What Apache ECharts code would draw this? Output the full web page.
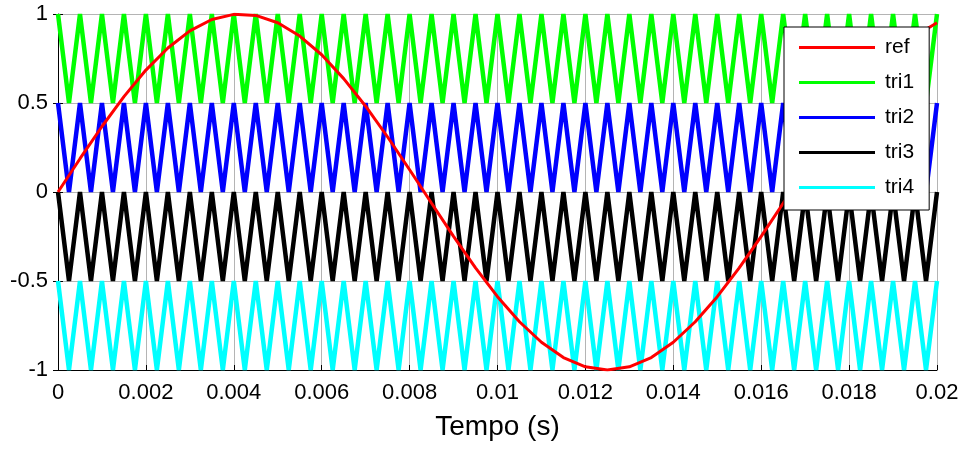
<!DOCTYPE html>
<html>
<head>
<meta charset="utf-8">
<title>Portadoras e referência</title>
<script src="https://cdn.jsdelivr.net/npm/echarts@6.0.0/dist/echarts.min.js"></script>
<style>
  html, body { margin: 0; padding: 0; background: #fff; }
  #chart { width: 965px; height: 450px; }
</style>
</head>
<body>
<div id="chart"></div>
<script>
  // eixo x (s) e rótulos
  var xTickLabels = ['0', '0.002', '0.004', '0.006', '0.008', '0.01', '0.012', '0.014', '0.016', '0.018', '0.02'];
  var yTickLabels = ['-1', '-0.5', '0', '0.5', '1'];

  // vértices das portadoras triangulares
  var triTime = [
    0, 0.00025, 0.0005, 0.00075, 0.001, 0.00125, 0.0015, 0.00175, 0.002, 0.00225,
    0.0025, 0.00275, 0.003, 0.00325, 0.0035, 0.00375, 0.004, 0.00425, 0.0045, 0.00475,
    0.005, 0.00525, 0.0055, 0.00575, 0.006, 0.00625, 0.0065, 0.00675, 0.007, 0.00725,
    0.0075, 0.00775, 0.008, 0.00825, 0.0085, 0.00875, 0.009, 0.00925, 0.0095, 0.00975,
    0.01, 0.01025, 0.0105, 0.01075, 0.011, 0.01125, 0.0115, 0.01175, 0.012, 0.01225,
    0.0125, 0.01275, 0.013, 0.01325, 0.0135, 0.01375, 0.014, 0.01425, 0.0145, 0.01475,
    0.015, 0.01525, 0.0155, 0.01575, 0.016, 0.01625, 0.0165, 0.01675, 0.017, 0.01725,
    0.0175, 0.01775, 0.018, 0.01825, 0.0185, 0.01875, 0.019, 0.01925, 0.0195, 0.01975,
    0.02
  ];
  var tri1 = [
    1, 0.5, 1, 0.5, 1, 0.5, 1, 0.5, 1, 0.5,
    1, 0.5, 1, 0.5, 1, 0.5, 1, 0.5, 1, 0.5,
    1, 0.5, 1, 0.5, 1, 0.5, 1, 0.5, 1, 0.5,
    1, 0.5, 1, 0.5, 1, 0.5, 1, 0.5, 1, 0.5,
    1, 0.5, 1, 0.5, 1, 0.5, 1, 0.5, 1, 0.5,
    1, 0.5, 1, 0.5, 1, 0.5, 1, 0.5, 1, 0.5,
    1, 0.5, 1, 0.5, 1, 0.5, 1, 0.5, 1, 0.5,
    1, 0.5, 1, 0.5, 1, 0.5, 1, 0.5, 1, 0.5,
    1
  ];
  var tri2 = [
    0.5, 0, 0.5, 0, 0.5, 0, 0.5, 0, 0.5, 0,
    0.5, 0, 0.5, 0, 0.5, 0, 0.5, 0, 0.5, 0,
    0.5, 0, 0.5, 0, 0.5, 0, 0.5, 0, 0.5, 0,
    0.5, 0, 0.5, 0, 0.5, 0, 0.5, 0, 0.5, 0,
    0.5, 0, 0.5, 0, 0.5, 0, 0.5, 0, 0.5, 0,
    0.5, 0, 0.5, 0, 0.5, 0, 0.5, 0, 0.5, 0,
    0.5, 0, 0.5, 0, 0.5, 0, 0.5, 0, 0.5, 0,
    0.5, 0, 0.5, 0, 0.5, 0, 0.5, 0, 0.5, 0,
    0.5
  ];
  var tri3 = [
    0, -0.5, 0, -0.5, 0, -0.5, 0, -0.5, 0, -0.5,
    0, -0.5, 0, -0.5, 0, -0.5, 0, -0.5, 0, -0.5,
    0, -0.5, 0, -0.5, 0, -0.5, 0, -0.5, 0, -0.5,
    0, -0.5, 0, -0.5, 0, -0.5, 0, -0.5, 0, -0.5,
    0, -0.5, 0, -0.5, 0, -0.5, 0, -0.5, 0, -0.5,
    0, -0.5, 0, -0.5, 0, -0.5, 0, -0.5, 0, -0.5,
    0, -0.5, 0, -0.5, 0, -0.5, 0, -0.5, 0, -0.5,
    0, -0.5, 0, -0.5, 0, -0.5, 0, -0.5, 0, -0.5,
    0
  ];
  var tri4 = [
    -0.5, -1, -0.5, -1, -0.5, -1, -0.5, -1, -0.5, -1,
    -0.5, -1, -0.5, -1, -0.5, -1, -0.5, -1, -0.5, -1,
    -0.5, -1, -0.5, -1, -0.5, -1, -0.5, -1, -0.5, -1,
    -0.5, -1, -0.5, -1, -0.5, -1, -0.5, -1, -0.5, -1,
    -0.5, -1, -0.5, -1, -0.5, -1, -0.5, -1, -0.5, -1,
    -0.5, -1, -0.5, -1, -0.5, -1, -0.5, -1, -0.5, -1,
    -0.5, -1, -0.5, -1, -0.5, -1, -0.5, -1, -0.5, -1,
    -0.5, -1, -0.5, -1, -0.5, -1, -0.5, -1, -0.5, -1,
    -0.5
  ];

  var refTime = [
    0, 0.0005, 0.001, 0.0015, 0.002, 0.0025, 0.003, 0.0035, 0.004, 0.0045,
    0.005, 0.0055, 0.006, 0.0065, 0.007, 0.0075, 0.008, 0.0085, 0.009, 0.0095,
    0.01, 0.0105, 0.011, 0.0115, 0.012, 0.0125, 0.013, 0.0135, 0.014, 0.0145,
    0.015, 0.0155, 0.016, 0.0165, 0.017, 0.0175, 0.018, 0.0185, 0.019, 0.0195,
    0.02
  ];
  var refValues = [
    0, 0.187, 0.368, 0.536, 0.685, 0.809, 0.905, 0.969, 0.998, 0.992,
    0.951, 0.876, 0.771, 0.637, 0.482, 0.309, 0.125, -0.063, -0.249, -0.426,
    -0.588, -0.729, -0.844, -0.930, -0.982, -1.000, -0.982, -0.930, -0.844, -0.729,
    -0.588, -0.426, -0.249, -0.063, 0.125, 0.309, 0.482, 0.637, 0.771, 0.876,
    0.951
  ];

  function pairs (xs, ys) {
    var out = [];
    for (var i = 0; i < xs.length; i++) {
      out.push([xs[i], ys[i]]);
    }
    return out;
  }

  var font = '"Liberation Sans", Arial, sans-serif';
  var gridColor = '#b4b4b4';

  var myChart = echarts.init(document.getElementById('chart'));
  var tickStyle = { inside: true, length: 5, lineStyle: { color: '#000', width: 1 } };

  function triSeries (name, data, color) {
    return {
      name: name,
      type: 'line',
      data: pairs(triTime, data),
      symbol: 'none',
      showSymbol: false,
      z: 2,
      lineStyle: { color: color, width: 4.5 },
      itemStyle: { color: color }
    };
  }

  myChart.setOption({
    animation: false,
    backgroundColor: '#fff',
    grid: {
      left: 58,
      right: 28,
      top: 14,
      bottom: 80,
      containLabel: false
    },
    legend: {
      orient: 'vertical',
      left: 784,
      top: 27,
      z: 10,
      icon: 'rect',
      itemWidth: 76,
      itemHeight: 3,
      itemGap: 14,
      padding: [10, 15, 12, 15],
      backgroundColor: '#fff',
      borderColor: '#000',
      borderWidth: 1,
      borderRadius: 0,
      selectedMode: false,
      textStyle: { fontFamily: font, fontSize: 21, color: '#000', padding: [0, 0, 0, 5] },
      data: ['ref', 'tri1', 'tri2', 'tri3', 'tri4']
    },
    xAxis: [{
      type: 'value',
      min: 0,
      max: 0.02,
      interval: 0.002,
      name: 'Tempo (s)',
      nameLocation: 'middle',
      nameGap: 43,
      nameTextStyle: { fontFamily: font, fontSize: 28, color: '#000' },
      axisLine: { show: true, onZero: false, lineStyle: { color: '#000', width: 1 } },
      axisTick: tickStyle,
      axisLabel: {
        fontFamily: font,
        fontSize: 22,
        color: '#000',
        margin: 12,
        formatter: function (v) {
          return xTickLabels[Math.round(v / 0.002)];
        }
      },
      splitLine: { show: true, lineStyle: { color: gridColor, width: 1 } }
    }, {
      type: 'value',
      position: 'top',
      min: 0,
      max: 0.02,
      interval: 0.002,
      axisLine: { show: false },
      axisTick: tickStyle,
      axisLabel: { show: false },
      splitLine: { show: false }
    }],
    yAxis: [{
      type: 'value',
      min: -1,
      max: 1,
      interval: 0.5,
      axisLine: { show: true, onZero: false, lineStyle: { color: '#000', width: 1 } },
      axisTick: tickStyle,
      axisLabel: {
        fontFamily: font,
        fontSize: 22,
        color: '#000',
        margin: 10,
        formatter: function (v) {
          return yTickLabels[Math.round((v + 1) / 0.5)];
        }
      },
      splitLine: { show: true, lineStyle: { color: gridColor, width: 1 } }
    }, {
      type: 'value',
      position: 'right',
      min: -1,
      max: 1,
      interval: 0.5,
      axisLine: { show: false },
      axisTick: tickStyle,
      axisLabel: { show: false },
      splitLine: { show: false }
    }],
    series: [
      {
        name: 'ref',
        type: 'line',
        data: pairs(refTime, refValues),
        symbol: 'none',
        showSymbol: false,
        z: 3,
        lineStyle: { color: '#ff0000', width: 3 },
        itemStyle: { color: '#ff0000' }
      },
      triSeries('tri1', tri1, '#00ff00'),
      triSeries('tri2', tri2, '#0000ff'),
      triSeries('tri3', tri3, '#000000'),
      triSeries('tri4', tri4, '#00ffff')
    ]
  });
</script>
</body>
</html>
